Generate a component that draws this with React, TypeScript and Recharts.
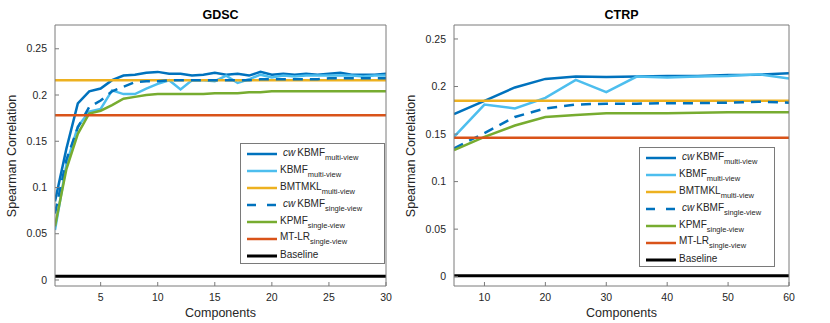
import { Legend, Line, LineChart, ReferenceLine, XAxis, YAxis } from "recharts";

// GDSC panel
const gdscComponents = [1, 2, 3, 4, 5, 6, 7, 8, 9, 10, 11, 12, 13, 14, 15, 16, 17, 18, 19, 20, 21, 22, 23, 24, 25, 26, 27, 28, 29, 30];
const gdscCwMulti = [0.085, 0.142, 0.191, 0.204, 0.207, 0.216, 0.221, 0.222, 0.224, 0.225, 0.223, 0.223, 0.221, 0.222, 0.224, 0.222, 0.223, 0.221, 0.225, 0.222, 0.223, 0.222, 0.223, 0.222, 0.223, 0.224, 0.222, 0.222, 0.222, 0.223];
const gdscKbmfMulti = [0.054, 0.125, 0.166, 0.182, 0.185, 0.205, 0.201, 0.201, 0.207, 0.212, 0.216, 0.206, 0.216, 0.216, 0.215, 0.221, 0.213, 0.217, 0.222, 0.219, 0.221, 0.22, 0.221, 0.221, 0.221, 0.221, 0.221, 0.22, 0.221, 0.221];
const gdscCwSingle = [0.072, 0.13, 0.165, 0.187, 0.194, 0.204, 0.209, 0.214, 0.215, 0.215, 0.216, 0.216, 0.216, 0.216, 0.216, 0.216, 0.216, 0.216, 0.217, 0.217, 0.217, 0.217, 0.217, 0.217, 0.218, 0.218, 0.218, 0.218, 0.218, 0.218];
const gdscKpmf = [0.058, 0.12, 0.158, 0.18, 0.183, 0.189, 0.196, 0.198, 0.2, 0.201, 0.201, 0.201, 0.201, 0.201, 0.202, 0.202, 0.202, 0.203, 0.203, 0.204, 0.204, 0.204, 0.204, 0.204, 0.204, 0.204, 0.204, 0.204, 0.204, 0.204];
const gdscBmtmkl = 0.216;
const gdscMtlr = 0.178;
const gdscBaseline = 0.004;
const gdscXTicks = [5, 10, 15, 20, 25, 30];

// CTRP panel
const ctrpComponents = [5, 10, 15, 20, 25, 30, 35, 40, 45, 50, 55, 60];
const ctrpCwMulti = [0.171, 0.185, 0.199, 0.208, 0.2105, 0.21, 0.2105, 0.211, 0.211, 0.212, 0.2125, 0.214];
const ctrpKbmfMulti = [0.147, 0.181, 0.177, 0.188, 0.207, 0.194, 0.2105, 0.2095, 0.2105, 0.211, 0.213, 0.2085];
const ctrpCwSingle = [0.135, 0.151, 0.168, 0.177, 0.181, 0.182, 0.182, 0.1825, 0.1825, 0.183, 0.184, 0.183];
const ctrpKpmf = [0.133, 0.147, 0.159, 0.168, 0.17, 0.172, 0.172, 0.172, 0.1725, 0.173, 0.173, 0.173];
const ctrpBmtmkl = 0.185;
const ctrpMtlr = 0.146;
const ctrpBaseline = 0.001;
const ctrpXTicks = [10, 20, 30, 40, 50, 60];

const yTicks = [0, 0.05, 0.1, 0.15, 0.2, 0.25];

const DARK_BLUE = "#0072bd";
const LIGHT_BLUE = "#4dbeee";
const YELLOW = "#edb120";
const GREEN = "#77ac30";
const RED = "#d95319";
const AXIS = "#7a7a7a";
const TEXT = "#262626";
const FONT = '"Liberation Sans", Arial, Helvetica, sans-serif';
const LW = 2.5;

const legendItems = [
  { cw: true, name: "KBMF", sub: "multi-view", color: DARK_BLUE, dashed: false },
  { cw: false, name: "KBMF", sub: "multi-view", color: LIGHT_BLUE, dashed: false },
  { cw: false, name: "BMTMKL", sub: "multi-view", color: YELLOW, dashed: false },
  { cw: true, name: "KBMF", sub: "single-view", color: DARK_BLUE, dashed: true },
  { cw: false, name: "KPMF", sub: "single-view", color: GREEN, dashed: false },
  { cw: false, name: "MT-LR", sub: "single-view", color: RED, dashed: false },
  { cw: false, name: "Baseline", sub: "", color: "#000", dashed: false },
];

function LegendBox({ width, height }: { width: number; height: number }) {
  return (
    <div
      style={{
        width,
        height,
        boxSizing: "border-box",
        border: `1px solid ${AXIS}`,
        background: "#fff",
        paddingTop: 2,
        fontFamily: FONT,
        color: TEXT,
      }}
    >
      {legendItems.map((item, i) => (
        <div key={i} style={{ display: "flex", alignItems: "center", height: 16.9 }}>
          <svg width={30} height={6} style={{ marginLeft: 6, marginRight: 3, flex: "none" }}>
            <line
              x1={0}
              y1={3}
              x2={30}
              y2={3}
              stroke={item.color}
              strokeWidth={item.name === "Baseline" ? 3 : LW}
              strokeDasharray={item.dashed ? "9 11" : undefined}
            />
          </svg>
          <span style={{ fontSize: 10, lineHeight: "12px", whiteSpace: "nowrap", position: "relative", top: -1 }}>
            {item.cw && <i style={{ marginLeft: 3, marginRight: 2 }}>cw</i>}
            {item.name}
            {item.sub && (
              <span style={{ fontSize: 7.5, position: "relative", top: 4 }}>{item.sub}</span>
            )}
          </span>
        </div>
      ))}
    </div>
  );
}

type PanelProps = {
  title: string;
  components: number[];
  cwMulti: number[];
  kbmfMulti: number[];
  cwSingle: number[];
  kpmf: number[];
  bmtmkl: number;
  mtlr: number;
  baseline: number;
  xDomain: [number, number];
  xTicks: number[];
  yDomain: [number, number];
  width: number;
  // plot area edges inside the panel
  plot: { left: number; right: number; top: number; bottom: number };
  legend: { left: number; top: number; width: number; height: number };
};

const BOTTOM_H = 30;
const LEFT_W = 40;
const EDGE = 5;

function Panel(p: PanelProps) {
  const rows = p.components.map((c, i) => ({
    c,
    cwMulti: p.cwMulti[i],
    kbmfMulti: p.kbmfMulti[i],
    cwSingle: p.cwSingle[i],
    kpmf: p.kpmf[i],
  }));
  const margin = {
    top: p.plot.top - EDGE,
    bottom: 323 - p.plot.bottom - BOTTOM_H,
    left: p.plot.left - LEFT_W,
    right: p.width - p.plot.right - EDGE,
  };
  const tickStyle = { fontSize: 10.5, fill: TEXT, fontFamily: FONT };

  return (
    <div style={{ position: "relative", width: p.width, height: 323 }}>
      <div
        style={{
          position: "absolute",
          left: p.plot.left,
          width: p.plot.right - p.plot.left,
          top: 8,
          textAlign: "center",
          fontFamily: FONT,
          fontWeight: "bold",
          fontSize: 12.5,
          lineHeight: "14px",
          color: "#000",
        }}
      >
        {p.title}
      </div>
      <LineChart width={p.width} height={323} data={rows} margin={margin}>
        <XAxis
          dataKey="c"
          type="number"
          domain={p.xDomain}
          ticks={p.xTicks}
          allowDataOverflow
          height={BOTTOM_H}
          tickSize={-4}
          tickMargin={12}
          tick={tickStyle}
          axisLine={{ stroke: AXIS }}
          tickLine={{ stroke: AXIS }}
          label={{ value: "Components", position: "insideBottom", offset: -1, style: { fontSize: 12.5, fill: TEXT, fontFamily: FONT } }}
        />
        <XAxis
          xAxisId="top"
          orientation="top"
          type="number"
          domain={p.xDomain}
          ticks={p.xTicks}
          allowDataOverflow
          height={EDGE}
          tickSize={-4}
          tick={false}
          axisLine={{ stroke: AXIS }}
          tickLine={{ stroke: AXIS }}
        />
        <YAxis
          type="number"
          domain={p.yDomain}
          ticks={yTicks}
          allowDataOverflow
          width={LEFT_W}
          tickSize={-4}
          tickMargin={12}
          tick={tickStyle}
          axisLine={{ stroke: AXIS }}
          tickLine={{ stroke: AXIS }}
        />
        <YAxis
          yAxisId="right"
          orientation="right"
          type="number"
          domain={p.yDomain}
          ticks={yTicks}
          allowDataOverflow
          width={EDGE}
          tickSize={-4}
          tick={false}
          axisLine={{ stroke: AXIS }}
          tickLine={{ stroke: AXIS }}
        />
        <Line type="linear" dataKey="cwMulti" stroke={DARK_BLUE} strokeWidth={LW} dot={false} activeDot={false} isAnimationActive={false} />
        <Line type="linear" dataKey="kbmfMulti" stroke={LIGHT_BLUE} strokeWidth={LW} dot={false} activeDot={false} isAnimationActive={false} />
        <ReferenceLine y={p.bmtmkl} stroke={YELLOW} strokeWidth={LW} />
        <Line type="linear" dataKey="cwSingle" stroke={DARK_BLUE} strokeWidth={LW} strokeDasharray="10 7" dot={false} activeDot={false} isAnimationActive={false} />
        <Line type="linear" dataKey="kpmf" stroke={GREEN} strokeWidth={LW} dot={false} activeDot={false} isAnimationActive={false} />
        <ReferenceLine y={p.mtlr} stroke={RED} strokeWidth={LW} />
        <ReferenceLine y={p.baseline} stroke="#000" strokeWidth={3} />
        <Legend
          layout="horizontal"
          verticalAlign="middle"
          align="center"
          wrapperStyle={{ left: p.legend.left, top: p.legend.top, width: p.legend.width, height: p.legend.height }}
          content={() => <LegendBox width={p.legend.width} height={p.legend.height} />}
        />
      </LineChart>
      <div
        style={{
          position: "absolute",
          left: p.plot.left - 43 - 80,
          top: (p.plot.top + p.plot.bottom) / 2 - 8,
          width: 160,
          height: 16,
          lineHeight: "16px",
          textAlign: "center",
          transform: "rotate(-90deg)",
          fontFamily: FONT,
          fontSize: 12.5,
          color: TEXT,
        }}
      >
        Spearman Correlation
      </div>
    </div>
  );
}

export default function App() {
  return (
    <div style={{ position: "absolute", left: 0, top: 0, width: 830, height: 323, background: "#fff" }}>
      <div style={{ position: "absolute", left: 0, top: 0 }}>
        <Panel
          title="GDSC"
          components={gdscComponents}
          cwMulti={gdscCwMulti}
          kbmfMulti={gdscKbmfMulti}
          cwSingle={gdscCwSingle}
          kpmf={gdscKpmf}
          bmtmkl={gdscBmtmkl}
          mtlr={gdscMtlr}
          baseline={gdscBaseline}
          xDomain={[1, 30]}
          xTicks={gdscXTicks}
          yDomain={[-0.0065, 0.2757]}
          width={400}
          plot={{ left: 55, right: 386, top: 25, bottom: 286 }}
          legend={{ left: 240, top: 143, width: 145, height: 121 }}
        />
      </div>
      <div style={{ position: "absolute", left: 400, top: 0 }}>
        <Panel
          title="CTRP"
          components={ctrpComponents}
          cwMulti={ctrpCwMulti}
          kbmfMulti={ctrpKbmfMulti}
          cwSingle={ctrpCwSingle}
          kpmf={ctrpKpmf}
          bmtmkl={ctrpBmtmkl}
          mtlr={ctrpMtlr}
          baseline={ctrpBaseline}
          xDomain={[5, 60]}
          xTicks={ctrpXTicks}
          yDomain={[-0.0098, 0.2647]}
          width={430}
          plot={{ left: 54, right: 389, top: 25, bottom: 286 }}
          legend={{ left: 239, top: 147, width: 136, height: 120 }}
        />
      </div>
    </div>
  );
}
